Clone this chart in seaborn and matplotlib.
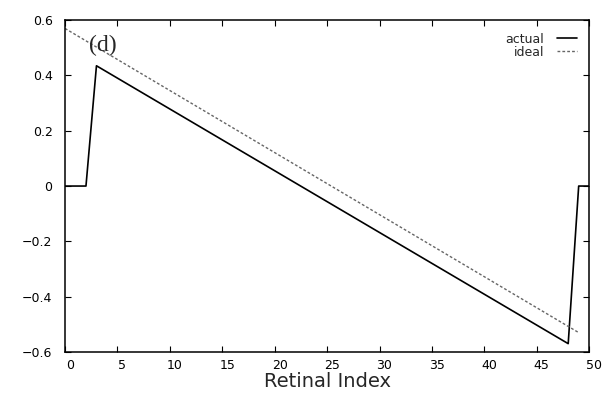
import seaborn as sns
import matplotlib.pyplot as plt
import matplotlib.transforms as mtransforms

# breakpoints of the two traces
actual_x = [0, 2, 3, 48, 49, 50]
actual_y = [0.0, 0.0, 0.435, -0.57, 0.0, 0.0]
ideal_x = [0, 49]
ideal_y = [0.57, -0.53]

x_ticks = [0, 5, 10, 15, 20, 25, 30, 35, 40, 45, 50]
y_ticks = [-0.6, -0.4, -0.2, 0, 0.2, 0.4, 0.6]
y_labels = ['\u22120.6', '\u22120.4', '\u22120.2', '0', '0.2', '0.4', '0.6']


def style():
    sns.set_style('ticks')
    plt.rcParams['font.family'] = ['DejaVu Sans']


def draw():
    fig = plt.figure(figsize=(6.15, 3.95), dpi=100)
    ax = fig.add_axes([0.1057, 0.109, 0.8523, 0.840])

    sns.lineplot(x=actual_x, y=actual_y, ax=ax, color='black', lw=1.2,
                 label='actual')
    sns.lineplot(x=ideal_x, y=ideal_y, ax=ax, color='#666666', lw=1.0,
                 linestyle=(0, (2, 1.5)), label='ideal')

    ax.set_xlim(0, 50)
    ax.set_ylim(-0.6, 0.6)
    ax.set_xticks(x_ticks)
    ax.set_yticks(y_ticks)
    ax.set_yticklabels(y_labels)
    ax.tick_params(direction='in', length=4, width=0.8, top=True, right=True,
                   labelsize=9, colors='black')
    ax.tick_params(axis='y', pad=9)
    ax.tick_params(axis='x', pad=5)
    # tick labels on the original sit a little right of their ticks
    shift = mtransforms.ScaledTranslation(5 / 100, 0, fig.dpi_scale_trans)
    for lab in ax.get_xticklabels():
        lab.set_transform(lab.get_transform() + shift)

    for sp in ax.spines.values():
        sp.set_color('black')
        sp.set_linewidth(1.1)

    ax.set_xlabel('Retinal Index', fontsize=14, labelpad=0)
    ax.set_ylabel('')

    ax.text(3.6, 0.51, '(d)', fontsize=17, family='Liberation Serif',
            ha='center', va='center')

    ax.legend(loc='upper right', frameon=False, markerfirst=False,
              fontsize=9, handlelength=1.6, labelspacing=0.0,
              borderaxespad=0.6, handletextpad=1.0)

    fig.savefig('out.png', dpi=100)


style()
draw()
